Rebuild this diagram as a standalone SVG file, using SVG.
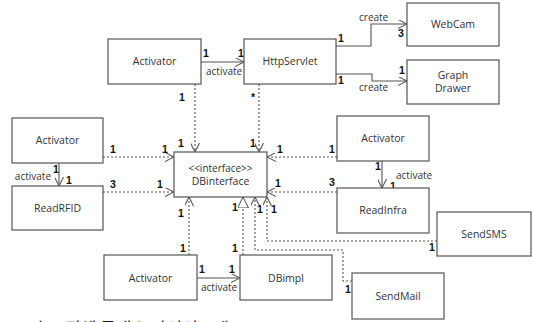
<svg xmlns="http://www.w3.org/2000/svg" width="533" height="322" viewBox="0 0 533 322">
<style>
.box{fill:#fff;stroke:#555;stroke-width:1.2}
.t{font-family:"Open Sans","Noto Sans","DejaVu Sans",sans-serif;font-size:10.5px;fill:#333;text-anchor:middle}
.lbl{font-family:"Open Sans","Noto Sans","DejaVu Sans",sans-serif;font-size:10px;fill:#333}
.m{font-family:"Liberation Sans","DejaVu Sans",sans-serif;font-size:10.5px;font-weight:bold;fill:#111}
.solid{fill:none;stroke:#555;stroke-width:1.1}
.dash{fill:none;stroke:#555;stroke-width:1.1;stroke-dasharray:2,2}
.cap{font-family:"Noto Sans CJK KR",sans-serif;font-size:17px;fill:#111}
</style>
<defs>
<marker id="open" viewBox="0 0 10 10" refX="10" refY="5" markerWidth="9" markerHeight="9" markerUnits="userSpaceOnUse" orient="auto">
<path d="M0,0 L10,5 L0,10" fill="none" stroke="#555" stroke-width="1.2"/>
</marker>
<marker id="tri" viewBox="0 0 12 12" refX="12" refY="6" markerWidth="11" markerHeight="11" markerUnits="userSpaceOnUse" orient="auto">
<path d="M0,0 L12,6 L0,12 Z" fill="#fff" stroke="#333" stroke-width="1"/>
</marker>
</defs>
<g id="connectors">
<path class="solid" d="M201,62 H244" marker-end="url(#open)"/>
<path class="solid" d="M336,46 H371 V24 H407" marker-end="url(#open)"/>
<path class="solid" d="M336,74 H372 V81 H407" marker-end="url(#open)"/>
<path class="dash" d="M195,84 V152" marker-end="url(#open)"/>
<path class="dash" d="M259,84 V152" marker-end="url(#open)"/>
<path class="dash" d="M103,157 H174" marker-end="url(#open)"/>
<path class="dash" d="M103,192 H174" marker-end="url(#open)"/>
<path class="solid" d="M59,163 V186" marker-end="url(#open)"/>
<path class="dash" d="M337,157 H267" marker-end="url(#open)"/>
<path class="dash" d="M337,192 H267" marker-end="url(#open)"/>
<path class="solid" d="M382,161 V188" marker-end="url(#open)"/>
<path class="dash" d="M189,255 V197" marker-end="url(#open)"/>
<path class="dash" d="M243,255 V197" marker-end="url(#tri)"/>
<path class="dash" d="M352,281 H343 V250 H255 V197" marker-end="url(#open)"/>
<path class="dash" d="M437,241 H267 V197" marker-end="url(#open)"/>
<path class="solid" d="M197,278 H240" marker-end="url(#open)"/>
<text class="lbl" x="206" y="75">activate</text>
<text class="lbl" x="359" y="21">create</text>
<text class="lbl" x="359" y="91">create</text>
<text class="lbl" x="51" y="180" text-anchor="end">activate</text>
<text class="lbl" x="396" y="179">activate</text>
<text class="lbl" x="201" y="291">activate</text>
<text class="m" x="203" y="57">1</text>
<text class="m" x="238" y="57">1</text>
<text class="m" x="338" y="42">1</text>
<text class="m" x="398" y="37">3</text>
<text class="m" x="338" y="84">1</text>
<text class="m" x="399" y="74">1</text>
<text class="m" x="179" y="101">1</text>
<text class="m" x="251" y="101">*</text>
<text class="m" x="178" y="147">1</text>
<text class="m" x="250" y="147">1</text>
<text class="m" x="110" y="153">1</text>
<text class="m" x="162" y="153">1</text>
<text class="m" x="110" y="188">3</text>
<text class="m" x="157" y="188">1</text>
<text class="m" x="53" y="173">1</text>
<text class="m" x="66" y="184">1</text>
<text class="m" x="277" y="153">1</text>
<text class="m" x="329" y="153">1</text>
<text class="m" x="329" y="186">3</text>
<text class="m" x="275" y="187">1</text>
<text class="m" x="375" y="170">1</text>
<text class="m" x="390" y="190">1</text>
<text class="m" x="178" y="217">1</text>
<text class="m" x="180" y="252">1</text>
<text class="m" x="232" y="211">1</text>
<text class="m" x="232" y="252">1</text>
<text class="m" x="257" y="213">1</text>
<text class="m" x="271" y="213">1</text>
<text class="m" x="345" y="293">1</text>
<text class="m" x="429" y="251">1</text>
<text class="m" x="199" y="273">1</text>
<text class="m" x="229" y="273">1</text>
</g>
<g id="activator1"><rect class="box" x="108" y="39" width="93" height="45"/><text class="t" x="154.5" y="65">Activator</text></g>
<g id="httpservlet"><rect class="box" x="244" y="39" width="92" height="45"/><text class="t" x="290" y="65">HttpServlet</text></g>
<g id="webcam"><rect class="box" x="407" y="3" width="92" height="43"/><text class="t" x="453" y="28">WebCam</text></g>
<g id="graphdrawer"><rect class="box" x="407" y="60" width="92" height="44"/><text class="t" x="453" y="79">Graph</text><text class="t" x="453" y="92">Drawer</text></g>
<g id="activator2"><rect class="box" x="12" y="118" width="91" height="45"/><text class="t" x="57.5" y="144">Activator</text></g>
<g id="readrfid"><rect class="box" x="12" y="186" width="91" height="44"/><text class="t" x="57.5" y="212">ReadRFID</text></g>
<g id="dbinterface"><rect class="box" x="174" y="152" width="93" height="45"/><text class="t" x="220.5" y="172" style="font-size:10px">&lt;&lt;interface&gt;&gt;</text><text class="t" x="220.5" y="185">DBinterface</text></g>
<g id="activator3"><rect class="box" x="337" y="116" width="92" height="45"/><text class="t" x="383" y="142">Activator</text></g>
<g id="readinfra"><rect class="box" x="337" y="188" width="92" height="45"/><text class="t" x="383" y="214">ReadInfra</text></g>
<g id="sendsms"><rect class="box" x="437" y="212" width="94" height="44"/><text class="t" x="484" y="238">SendSMS</text></g>
<g id="sendmail"><rect class="box" x="352" y="273" width="92" height="46"/><text class="t" x="398" y="300">SendMail</text></g>
<g id="activator4"><rect class="box" x="104" y="255" width="93" height="45"/><text class="t" x="150.5" y="282">Activator</text></g>
<g id="dbimpl"><rect class="box" x="240" y="255" width="92" height="45"/><text class="t" x="286" y="282">DBimpl</text></g>
<text class="cap" x="12" y="335">그림 8. 전체 클래스 다이어그램</text>
</svg>
